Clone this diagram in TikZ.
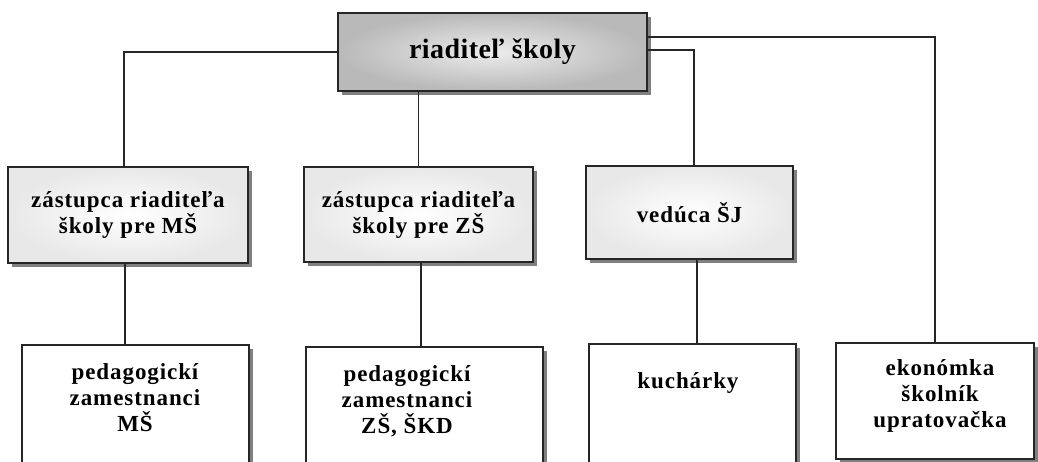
\documentclass[tikz,border=0pt]{standalone}
\usepackage{fontspec}
\setmainfont{Liberation Serif}
\newfontfamily\spacedfont[LetterSpace=4]{Liberation Serif}
\newfontfamily\titlefont[LetterSpace=1.5]{Liberation Serif}
\usetikzlibrary{shadows,calc}
\begin{document}
\begin{tikzpicture}[x=0.5pt,y=-0.5pt,
  conn/.style={line width=0.8pt, draw=black!85},
  boxbase/.style={draw=black!85, line width=0.9pt, inner sep=0pt,
    drop shadow={shadow xshift=2pt,shadow yshift=-2pt,fill=black!50,opacity=1}},
  topbox/.style={boxbase, inner color=gray!15, outer color=gray!55,
    font=\titlefont\bfseries\fontsize{14}{16}\selectfont},
  midbox/.style={boxbase, inner color=white, outer color=gray!18, align=center,
    font=\spacedfont\bfseries\fontsize{11.5}{13}\selectfont},
  lowbox/.style={boxbase, fill=white, anchor=north west},
  lowtext/.style={align=center, inner sep=0pt,
    font=\spacedfont\bfseries\fontsize{11.5}{13}\selectfont}
]
\useasboundingbox (0,0) rectangle (1038,461);
\clip (0,0) rectangle (1038,461);
\fill[white] (0,0) rectangle (1038,461);

\node[topbox, minimum width=154.5pt, minimum height=39pt] (T) at (492.5,52) {riaditeľ školy};

\node[midbox, minimum width=120pt, minimum height=48pt] (A) at (128,215) {zástupca riaditeľa\\školy pre MŠ};
\node[midbox, minimum width=114.5pt, minimum height=47.5pt] (B) at (418.5,214.5) {zástupca riaditeľa\\školy pre ZŠ};
\node[midbox, minimum width=103.5pt, minimum height=46.5pt] (C) at (689.5,212.5) {vedúca ŠJ};

\node[lowbox, minimum width=113.5pt, minimum height=70pt] (D) at (21,344) {};
\node[lowbox, minimum width=118.5pt, minimum height=70pt] (E) at (305,346) {};
\node[lowbox, minimum width=103.5pt, minimum height=70pt] (F) at (588,343) {};
\node[lowbox, minimum width=99pt, minimum height=58pt] (G) at (835,342) {};

\node[lowtext] (Dt) at (135,398) {pedagogickí\\zamestnanci\\MŠ};
\node[lowtext] (Et) at (407,401) {pedagogickí\\zamestnanci\\ZŠ, ŠKD};
\node[lowtext] (Ft) at (688,383) {kuchárky};
\node[lowtext] (Gt) at (940,396) {ekonómka\\školník\\upratovačka};

\coordinate (ta) at ($(A.north)+(-4,0)$);
\coordinate (tc) at ($(C.north)+(4.5,0)$);
\coordinate (te1) at ($(T.east)+(0,-2)$);
\coordinate (te2) at ($(T.east)+(0,-15)$);
\coordinate (ad) at ($(A.south)+(-3,0)$);
\coordinate (be) at ($(B.south)+(2.5,0)$);
\coordinate (cf) at ($(C.south)+(7.5,0)$);

\draw[conn] (T.west) -| (ta);
\draw[conn] (T.south -| B.north) -- (B.north);
\draw[conn] (te1) -| (tc);
\draw[conn] (te2) -| (G.north);
\draw[conn] (ad) -- (ad |- D.north);
\draw[conn] (be) -- (be |- E.north);
\draw[conn] (cf) -- (cf |- F.north);
\end{tikzpicture}
\end{document}
